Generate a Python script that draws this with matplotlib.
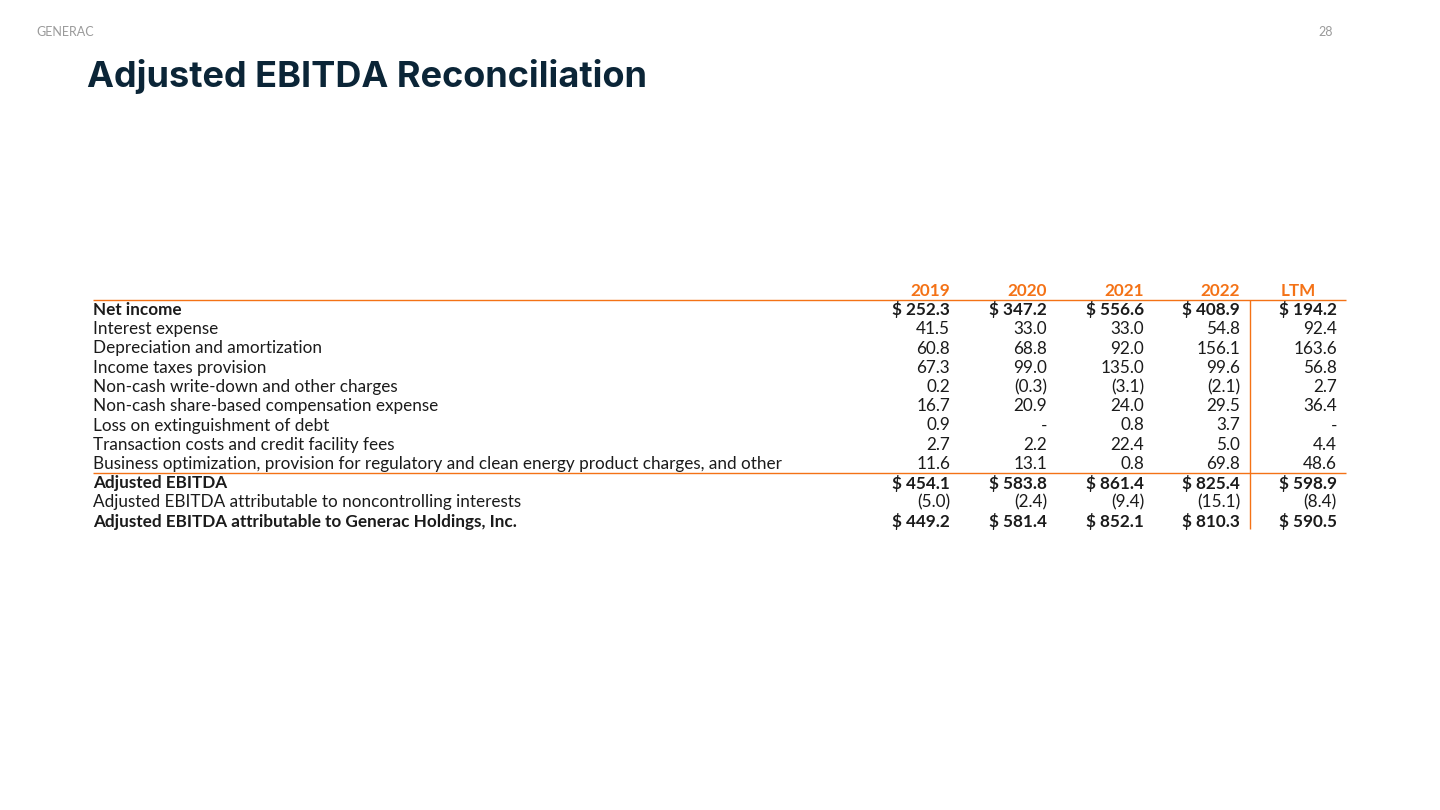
import matplotlib
matplotlib.use("Agg")
import matplotlib.pyplot as plt

# ---- data ----
years = ["2019", "2020", "2021", "2022", "LTM"]
row_labels = [
    "Net income",
    "Interest expense",
    "Depreciation and amortization",
    "Income taxes provision",
    "Non-cash write-down and other charges",
    "Non-cash share-based compensation expense",
    "Loss on extinguishment of debt",
    "Transaction costs and credit facility fees",
    "Business optimization, provision for regulatory and clean energy product charges, and other",
    "Adjusted EBITDA",
    "Adjusted EBITDA attributable to noncontrolling interests",
    "Adjusted EBITDA attributable to Generac Holdings, Inc.",
]
bold_rows = [0, 9, 11]
values_2019 = [252.3, 41.5, 60.8, 67.3, 0.2, 16.7, 0.9, 2.7, 11.6, 454.1, -5.0, 449.2]
values_2020 = [347.2, 33.0, 68.8, 99.0, -0.3, 20.9, None, 2.2, 13.1, 583.8, -2.4, 581.4]
values_2021 = [556.6, 33.0, 92.0, 135.0, -3.1, 24.0, 0.8, 22.4, 0.8, 861.4, -9.4, 852.1]
values_2022 = [408.9, 54.8, 156.1, 99.6, -2.1, 29.5, 3.7, 5.0, 69.8, 825.4, -15.1, 810.3]
values_ltm = [194.2, 92.4, 163.6, 56.8, 2.7, 36.4, None, 4.4, 48.6, 598.9, -8.4, 590.5]
columns = [values_2019, values_2020, values_2021, values_2022, values_ltm]

ORANGE = "#F47216"
NAVY = "#0B2537"
TXT = "#1b1b1b"
FONT = "Lato"


def fmt(v, dollar):
    if v is None:
        return "-"
    s = f"{abs(v):.1f}"
    if v < 0:
        s = f"({s})"
    if dollar:
        s = "$ " + s
    return s


fig = plt.figure(figsize=(14.4, 8.1), dpi=100)
ax = fig.add_axes([0, 0, 1, 1])
ax.set_xlim(0, 1440)
ax.set_ylim(810, 0)
ax.axis("off")

ax.text(36, 32, "GENERAC", fontsize=9, color="#9a9a9a", family=FONT, va="center", ha="left")
ax.text(1333, 32, "28", fontsize=9, color="#9a9a9a", family=FONT, va="center", ha="right")
ax.text(87, 76, "Adjusted EBITDA Reconciliation", fontsize=26, color=NAVY,
        family="Inter", weight="bold", va="center", ha="left")

col_right = [950, 1047, 1144, 1240, 1337]
header_y = 290.5
row_y0 = 310
dy = 19.25
left_x = 93
fs = 12.3

for i, (yr, xr) in enumerate(zip(years, col_right)):
    if yr == "LTM":
        ax.text(1298, header_y, yr, fontsize=fs, color=ORANGE, family=FONT,
                weight="bold", va="center", ha="center")
    else:
        ax.text(xr, header_y, yr, fontsize=fs, color=ORANGE, family=FONT,
                weight="bold", va="center", ha="right")

for r, lab in enumerate(row_labels):
    y = row_y0 + r * dy
    w = "bold" if r in bold_rows else "normal"
    ax.text(left_x, y, lab, fontsize=fs, color=TXT, family=FONT, weight=w,
            va="center", ha="left")
    for c, vals in enumerate(columns):
        ax.text(col_right[c], y, fmt(vals[r], r in bold_rows), fontsize=fs,
                color=TXT, family=FONT, weight=w, va="center", ha="right")

ax.plot([left_x, 1346], [299.5, 299.5], color=ORANGE, lw=1.0, solid_capstyle="butt")
ax.plot([left_x, 1346], [472.5, 472.5], color=ORANGE, lw=1.0, solid_capstyle="butt")
ax.plot([1250, 1250], [299.5, 529], color=ORANGE, lw=1.0, solid_capstyle="butt")

fig.savefig("out.png", dpi=100, facecolor="white")
